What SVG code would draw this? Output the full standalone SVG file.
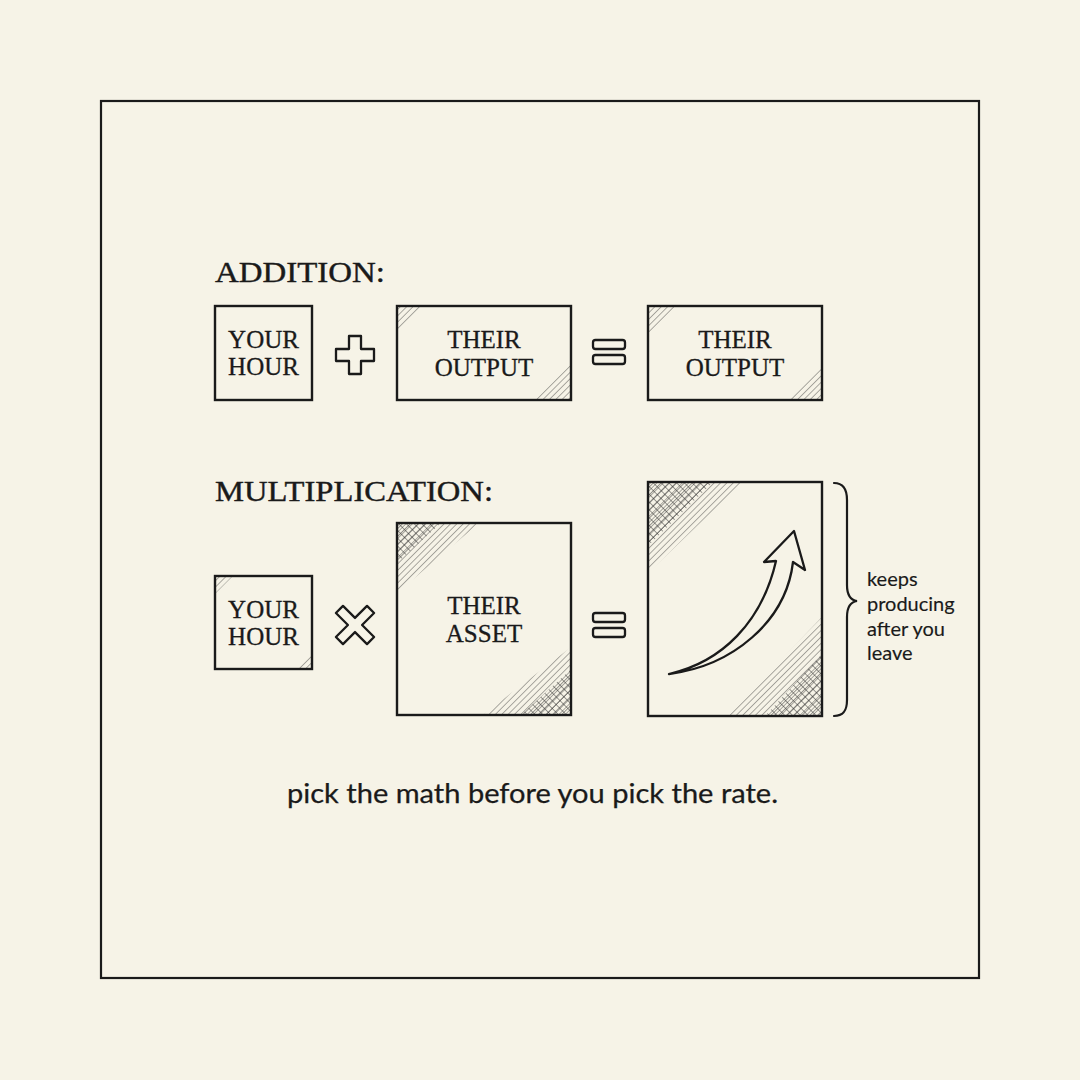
<svg xmlns="http://www.w3.org/2000/svg" width="1080" height="1080" viewBox="0 0 1080 1080">
<style>
.box{fill:none;stroke:#1a1a1a;stroke-width:2.4}
.sym{fill:#f6f3e7;stroke:#1a1a1a;stroke-width:2.3;stroke-linejoin:round}
.lbl{font-family:"Liberation Serif",serif;font-size:25px;fill:#1a1a1a;stroke:#1a1a1a;stroke-width:0.3;text-anchor:middle}
.head{font-family:"Liberation Serif",serif;font-size:29px;fill:#1a1a1a;stroke:#1a1a1a;stroke-width:0.4}
.note{font-family:Lato,"Open Sans",sans-serif;font-size:20px;fill:#1a1a1a;stroke:#1a1a1a;stroke-width:0.15}
.cap{font-family:Lato,"Open Sans",sans-serif;font-size:26px;fill:#1a1a1a;stroke:#1a1a1a;stroke-width:0.25}
.h1{fill:url(#hatch);opacity:0.8}
.h2{fill:url(#cross);opacity:0.9}
</style>
<defs>
<pattern id="hatch" width="4.5" height="4.5" patternUnits="userSpaceOnUse" patternTransform="rotate(45)">
<line x1="0" y1="0" x2="0" y2="4.5" stroke="#222" stroke-width="0.9"/>
</pattern>
<pattern id="cross" width="5.5" height="5.5" patternUnits="userSpaceOnUse" patternTransform="rotate(45)">
<line x1="0" y1="0" x2="0" y2="5.5" stroke="#222" stroke-width="1"/>
<line x1="0" y1="0" x2="5.5" y2="0" stroke="#222" stroke-width="1"/>
</pattern>
<path id="plusShape" d="M349,336 H361 V349 H374 V361 H361 V374 H349 V361 H336 V349 H349 Z"/>
<path id="timesShape" d="M350,333 H360 V350 H377 V360 H360 V377 H350 V360 H333 V350 H350 Z"/>
</defs>
<rect width="1080" height="1080" fill="#f6f3e7"/>
<rect x="101" y="101" width="878" height="877" fill="none" stroke="#1a1a1a" stroke-width="2.2"/>

<text class="head" x="215" y="282" textLength="170" lengthAdjust="spacingAndGlyphs">ADDITION:</text>
<text class="head" x="215" y="501" textLength="278" lengthAdjust="spacingAndGlyphs">MULTIPLICATION:</text>

<g id="add-your-hour">
<rect class="box" x="215" y="306" width="97" height="94"/>
<text class="lbl" x="263.5" y="348">YOUR</text>
<text class="lbl" x="263.5" y="375">HOUR</text>
</g>
<g id="plus">
<use href="#plusShape" class="sym"/>
</g>
<g id="add-their-output">
<polygon class="h1" points="398,307 424,307 398,333"/>
<polygon class="h1" points="570,399 536,399 570,365"/>
<rect class="box" x="397" y="306" width="174" height="94"/>
<text class="lbl" x="484" y="348">THEIR</text>
<text class="lbl" x="484" y="376">OUTPUT</text>
</g>
<g id="equals-1">
<rect class="sym" x="593" y="340" width="32" height="9" rx="2.5"/>
<rect class="sym" x="593" y="355" width="32" height="9" rx="2.5"/>
</g>
<g id="add-result">
<polygon class="h1" points="649,307 675,307 649,333"/>
<polygon class="h1" points="821,399 787,399 821,365"/>
<rect class="box" x="648" y="306" width="174" height="94"/>
<text class="lbl" x="735" y="348">THEIR</text>
<text class="lbl" x="735" y="376">OUTPUT</text>
</g>

<g id="mul-your-hour">
<polygon class="h1" points="216,577 232,577 216,593"/>
<polygon class="h1" points="311,668 295,668 311,652"/>
<rect class="box" x="215" y="576" width="97" height="93"/>
<text class="lbl" x="263.5" y="618">YOUR</text>
<text class="lbl" x="263.5" y="645">HOUR</text>
</g>
<g id="times">
<use href="#timesShape" class="sym" transform="translate(0,270) rotate(45 355 355)"/>
</g>
<g id="mul-their-asset">
<polygon class="h1" points="398,524 478,524 398,592"/>
<polygon class="h2" points="398,524 440,524 398,562"/>
<polygon class="h1" points="570,714 484,714 570,648"/>
<polygon class="h2" points="570,714 522,714 570,670"/>
<rect class="box" x="397" y="523" width="174" height="192"/>
<text class="lbl" x="484" y="614">THEIR</text>
<text class="lbl" x="484" y="642">ASSET</text>
</g>
<g id="equals-2">
<rect class="sym" x="593" y="613" width="32" height="9" rx="2.5"/>
<rect class="sym" x="593" y="628" width="32" height="9" rx="2.5"/>
</g>
<g id="mul-result">
<polygon class="h1" points="649,483 742,483 649,572"/>
<polygon class="h2" points="649,483 712,483 649,545"/>
<polygon class="h1" points="821,715 728,715 821,618"/>
<polygon class="h2" points="821,715 766,715 821,655"/>
<rect class="box" x="648" y="482" width="174" height="234"/>
<path class="sym" stroke-width="2.6" d="M669,674 C722,662 762,622 776,561 L764,562 L794,531 L805,570 L793,562 C786,622 732,666 669,674 Z"/>
</g>

<g id="connectors">
<path d="M834,483 C844,483 847,490 847,500 L847,585 C847,595 850,600 857,601 C850,602 847,607 847,617 L847,700 C847,710 844,716 834,716" fill="none" stroke="#1a1a1a" stroke-width="2.2" stroke-linecap="round"/>
</g>

<g id="note">
<text class="note" x="867" y="586">keeps</text>
<text class="note" x="867" y="611">producing</text>
<text class="note" x="867" y="636">after you</text>
<text class="note" x="867" y="660">leave</text>
</g>
<text class="cap" x="287" y="803" textLength="491" lengthAdjust="spacingAndGlyphs">pick the math before you pick the rate.</text>
</svg>
